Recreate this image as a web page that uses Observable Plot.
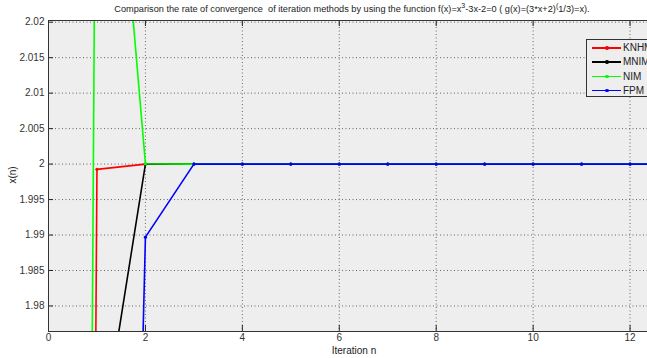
<!DOCTYPE html>
<html>
<head>
<meta charset="utf-8">
<script src="https://cdn.jsdelivr.net/npm/d3@7"></script>
<script src="https://cdn.jsdelivr.net/npm/@observablehq/plot@0.6"></script>
<style>
  html, body { margin: 0; padding: 0; background: #fff; }
  #wrap { position: relative; width: 647px; height: 358px; overflow: hidden; font-family: "Liberation Sans Narrow", "Liberation Sans", Arial, sans-serif; color: #222; }
  .abs { position: absolute; white-space: nowrap; }
  #title { top: 2px; left: 0; width: 704px; text-align: center; font-size: 9.2px; }
  #xlabel { top: 345px; left: 0; width: 708px; text-align: center; font-size: 10px; }
  #ylabel { left: 12px; top: 175px; font-size: 10px; transform: translate(-50%, -50%) rotate(-90deg); }
  #legend { left: 586px; top: 39px; width: 80px; height: 58px; background: #eeeeee; border: 1px solid #333; box-sizing: border-box; font-size: 10px; }
  .item { position: absolute; left: 0; height: 14px; }
  .item .ln { position: absolute; left: 5px; top: 6px; width: 29px; height: 1.5px; }
  .item .dt { position: absolute; left: 18px; top: 5px; width: 3.5px; height: 3.5px; border-radius: 50%; }
  .item .tx { position: absolute; left: 36px; top: 0px; line-height: 13px; }
  svg { display: block; }
</style>
</head>
<body>
<div id="wrap">
  <div id="plot"></div>
  <div class="abs" id="title">Comparison the rate of convergence&nbsp; of iteration methods by using the function f(x)=x<sup style="font-size:7px;vertical-align:4px">3</sup>-3x-2=0 ( g(x)=(3*x+2)<sup style="font-size:7px;vertical-align:4px">(</sup>1/3)=x).</div>
  <div class="abs" id="xlabel">Iteration n</div>
  <div class="abs" id="ylabel">x(n)</div>
  <div class="abs" id="legend"></div>
</div>
<script>
// ---- data ----
const iterations = [0, 1, 2, 3, 4, 5, 6, 7, 8, 9, 10, 11, 12, 13];
const seriesNames = ["KNHM", "MNIM", "NIM", "FPM"];
const seriesColors = ["#ff0000", "#000000", "#00ff00", "#0000ff"];
const knhm = [1, 1.99926, 2, 2, 2, 2, 2, 2, 2, 2, 2, 2, 2, 2];
const mnim = [1, 1.9570, 2, 2, 2, 2, 2, 2, 2, 2, 2, 2, 2, 2];
const nim  = [1, 2.08, 2.00004, 2, 2, 2, 2, 2, 2, 2, 2, 2, 2, 2];
const fpm  = [1, 1.71, 1.9897, 2, 2, 2, 2, 2, 2, 2, 2, 2, 2, 2];
const xTicks = [0, 2, 4, 6, 8, 10, 12];
const yTicks = [1.98, 1.985, 1.99, 1.995, 2, 2.005, 2.01, 2.015, 2.02];

const allSeries = [knhm, mnim, nim, fpm];
const rows = [];
allSeries.forEach((vals, s) => vals.forEach((v, i) => rows.push({series: seriesNames[s], n: iterations[i], x: v})));

const W = 647, H = 358, mL = 48, mT = 20, mB = 27, mR = 0;
const plotW = W - mL - mR, plotH = H - mT - mB;
const fmt = d => String(+d.toFixed(4));
const font = '"Liberation Sans Narrow", "Liberation Sans", Arial, sans-serif';

const marks = [
  Plot.frame({fill: "#eeeeee", stroke: null}),
  Plot.gridX(xTicks, {stroke: "#555", strokeOpacity: 0.9, strokeDasharray: "1,2.5", strokeWidth: 1}),
  Plot.gridY(yTicks, {stroke: "#555", strokeOpacity: 0.9, strokeDasharray: "1,2.5", strokeWidth: 1}),
];
seriesNames.forEach((name, s) => {
  const d = rows.filter(r => r.series === name);
  marks.push(Plot.line(d, {x: "n", y: "x", stroke: seriesColors[s], strokeWidth: 1.6, clip: true}));
  marks.push(Plot.dot(d, {x: "n", y: "x", fill: seriesColors[s], r: 1.6, clip: true}));
});
marks.push(
  Plot.ruleX(xTicks, {stroke: "#222", insetTop: plotH - 6}),
  Plot.ruleX(xTicks, {stroke: "#222", insetBottom: plotH - 6}),
  Plot.ruleY(yTicks, {stroke: "#222", insetRight: plotW - 5}),
  Plot.axisX(xTicks, {tickSize: 0, tickPadding: 2, tickFormat: fmt, fontSize: 10, fill: "#333", label: null}),
  Plot.axisY(yTicks, {tickSize: 0, tickPadding: 4, tickFormat: fmt, fontSize: 10, fill: "#333", label: null}),
  Plot.frame({stroke: "#333", strokeWidth: 1})
);

const chart = Plot.plot({
  width: W, height: H,
  marginLeft: mL, marginTop: mT, marginBottom: mB, marginRight: mR,
  style: {fontFamily: font, fontSize: "10px", background: "transparent"},
  x: {domain: [0, 12.36]},
  y: {domain: [1.9764, 2.02024]},
  marks
});
document.getElementById("plot").appendChild(chart);

// legend
const lg = document.getElementById("legend");
seriesNames.forEach((name, s) => {
  const it = document.createElement("div");
  it.className = "item";
  it.style.top = (1 + s * 14.3) + "px";
  it.style.width = "80px";
  it.innerHTML = `<div class="ln" style="background:${seriesColors[s]}"></div><div class="dt" style="background:${seriesColors[s]}"></div><div class="tx">${name}</div>`;
  lg.appendChild(it);
});
</script>
</body>
</html>
